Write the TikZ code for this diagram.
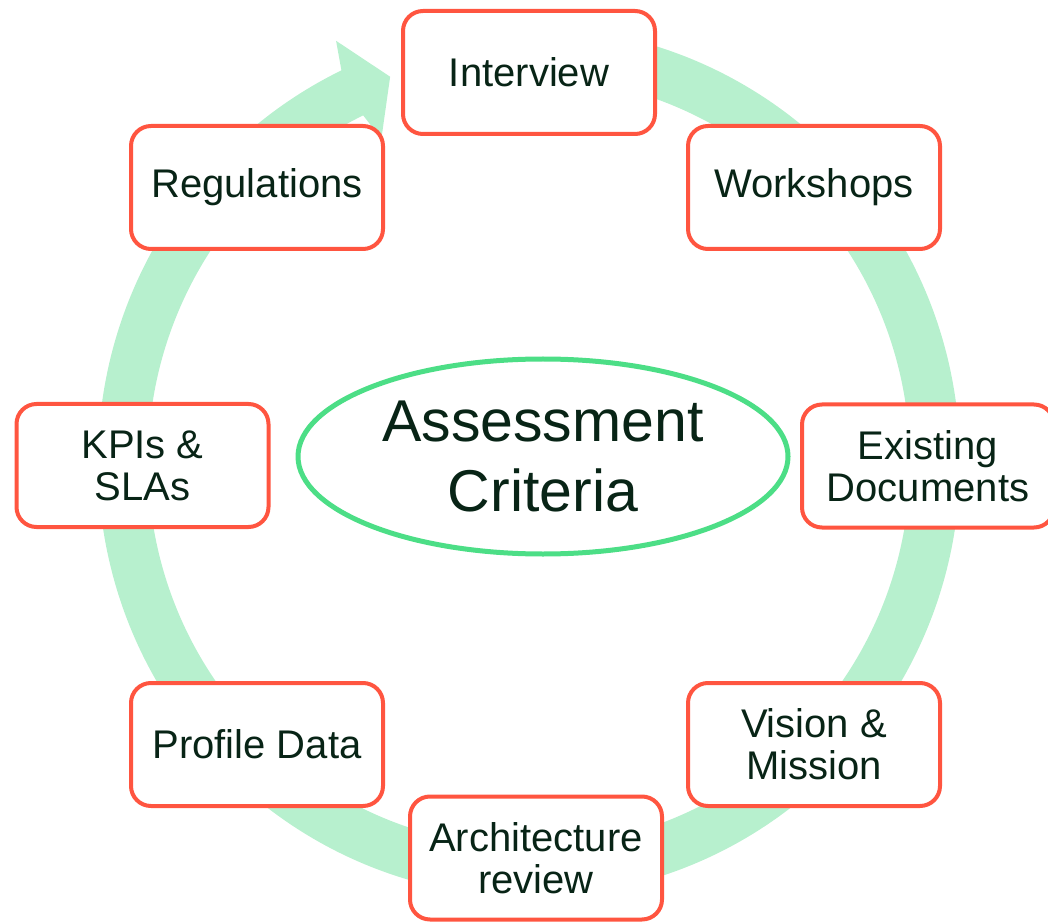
\documentclass[tikz,border=0pt]{standalone}
\usepackage{fontspec}
\setmainfont{Liberation Sans}
\usetikzlibrary{shapes.geometric}
\definecolor{bandgreen}{RGB}{183,240,206}
\definecolor{boxred}{RGB}{255,85,64}
\definecolor{txt}{RGB}{8,36,22}
\definecolor{ellgreen}{RGB}{76,222,134}
\begin{document}
\begin{tikzpicture}[x=1pt,y=1pt,
  box/.style={draw=boxred, line width=4pt, fill=white, rounded corners=20pt,
    minimum width=252pt, minimum height=123pt, inner sep=0pt, align=center,
    text=txt, font=\fontsize{40}{42}\selectfont},
  centre/.style={ellipse, draw=ellgreen, line width=5pt, fill=white,
    minimum width=490pt, minimum height=195pt, inner sep=0pt, align=center,
    text=txt, font=\fontsize{59}{70}\selectfont},
  ring/.style={draw=bandgreen, line width=50pt},
  ringhead/.style={fill=bandgreen}
]
\useasboundingbox (0,0) rectangle (1048,922);
\coordinate (c) at (529,460);
% circular arrow band
\draw[ring] ([shift={(c)}]95:406 and 410) arc[start angle=95,end angle=-244.5,x radius=406,y radius=410];
\fill[ringhead] ([shift={(c)}]115.8:431 and 435) -- ([shift={(c)}]114.8:460 and 464)
  -- ([shift={(c)}]110:406 and 410) -- ([shift={(c)}]114.8:352 and 356)
  -- ([shift={(c)}]115.8:381 and 385) -- cycle;
% centre
\node[centre] (ac) at (543,465.5) {Assessment\\Criteria};
% boxes
\node[box] (interview) at (529,849.5) {Interview};
\node[box] (workshops) at (814,734.5) {Workshops};
\node[box] (existing) at (928,456) {Existing\\Documents};
\node[box] (vision) at (814,177.5) {Vision \&\\Mission};
\node[box] (arch) at (536,64) {Architecture\\review};
\node[box] (profile) at (257,177.5) {Profile Data};
\node[box] (kpis) at (142.5,456.5) {KPIs \&\\SLAs};
\node[box] (regulations) at (257,734.5) {Regulations};
\end{tikzpicture}
\end{document}
